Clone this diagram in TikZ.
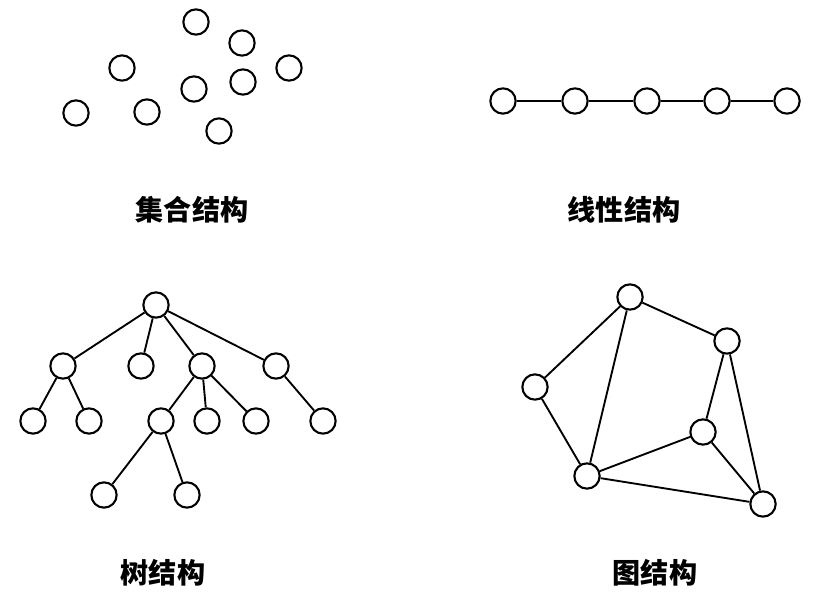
\documentclass[tikz,border=0pt]{standalone}
\usepackage{fontspec}
\newfontfamily\cjk{Noto Sans CJK SC}
\usetikzlibrary{positioning}
\tikzset{
  dot/.style={draw, circle, line width=1.8pt, minimum size=0.76cm, inner sep=0pt, fill=white},
  title/.style={font=\cjk\bfseries\fontsize{24}{28}\selectfont}
}
\begin{document}
\begin{tikzpicture}[x=0.03cm, y=-0.03cm, line width=1.6pt]
            \useasboundingbox (0,0) rectangle (815,596);
            % set
            \node[dot] (s1) at (196,22) {};
            \node[dot] (s2) at (242,43) {};
            \node[dot] (s3) at (122,68) {};
            \node[dot] (s4) at (289,68) {};
            \node[dot] (s5) at (243,82) {};
            \node[dot] (s6) at (194,89) {};
            \node[dot] (s7) at (76,113) {};
            \node[dot] (s8) at (147,112) {};
            \node[dot] (s9) at (219,131) {};
            \node[title] (t1) at (192,210) {集合结构};

            % linear
            \node[dot] (l1) at (503,101) {};
            \node[dot] (l2) at (575,101) {};
            \node[dot] (l3) at (647,101) {};
            \node[dot] (l4) at (717,101) {};
            \node[dot] (l5) at (787,101) {};
            \draw (l1) -- (l2) -- (l3) -- (l4) -- (l5);
            \node[title] (t2) at (624,210) {线性结构};

            % tree
            \node[dot] (r) at (156,305) {};
            \node[dot] (a) at (63,366) {};
            \node[dot] (b) at (141,366) {};
            \node[dot] (c) at (202,366) {};
            \node[dot] (d) at (276,366) {};
            \node[dot] (a1) at (33,421) {};
            \node[dot] (a2) at (89,421) {};
            \node[dot] (c1) at (161,421) {};
            \node[dot] (c2) at (207,421) {};
            \node[dot] (c3) at (256,421) {};
            \node[dot] (d1) at (323,421) {};
            \node[dot] (e1) at (104,495) {};
            \node[dot] (e2) at (187,495) {};
            \draw (r) -- (a); \draw (r) -- (b); \draw (r) -- (c); \draw (r) -- (d);
            \draw (a) -- (a1); \draw (a) -- (a2);
            \draw (c) -- (c1); \draw (c) -- (c2); \draw (c) -- (c3);
            \draw (d) -- (d1);
            \draw (c1) -- (e1); \draw (c1) -- (e2);
            \node[title] (t3) at (163,573) {树结构};

            % graph
            \node[dot] (g1) at (630,297) {};
            \node[dot] (g2) at (727,341) {};
            \node[dot] (g3) at (535,387) {};
            \node[dot] (g4) at (703,432) {};
            \node[dot] (g5) at (587,476) {};
            \node[dot] (g6) at (763,504) {};
            \draw (g1) -- (g3); \draw (g1) -- (g5); \draw (g1) -- (g2);
            \draw (g3) -- (g5); \draw (g2) -- (g4); \draw (g2) -- (g6);
            \draw (g4) -- (g5); \draw (g4) -- (g6); \draw (g5) -- (g6);
            \node[title] (t4) at (655,573) {图结构};
\end{tikzpicture}
\end{document}
